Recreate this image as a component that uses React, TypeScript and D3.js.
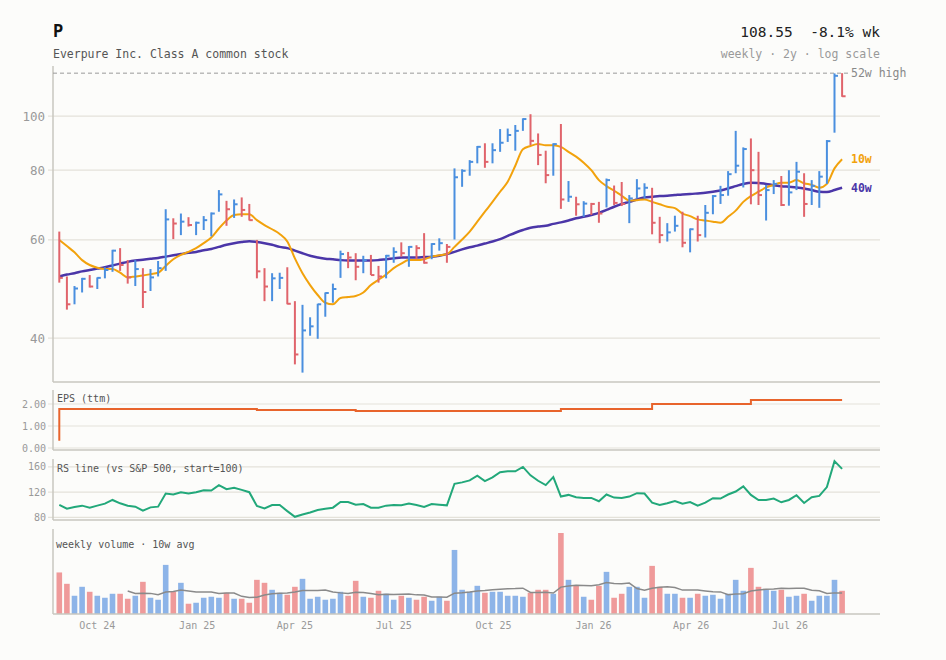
import React from 'react';
import * as d3 from 'd3';

const TICKER = 'P';
const COMPANY = 'Everpure Inc. Class A common stock';
const META = 'weekly · 2y · log scale';
const START = new Date(2024, 7, 27);
const PRIOR_CLOSE = 62.0;

const highs = [
  62.1, 51.6, 49.6, 51.3, 51.9, 51.4, 53.6, 57.6, 58.0, 55.2,
  55.2, 53.4, 53.2, 55.0, 68.1, 65.6, 66.9, 65.9, 64.7, 66.2,
  67.2, 73.7, 70.5, 70.9, 71.5, 69.6, 60.0, 53.4, 52.3, 52.4,
  53.6, 46.6, 45.9, 43.6, 46.1, 48.3, 50.1, 57.4, 57.1, 56.8,
  56.2, 56.4, 53.9, 56.4, 58.2, 59.4, 58.5, 58.7, 61.7, 59.2,
  60.4, 59.0, 80.6, 80.3, 83.4, 88.4, 89.4, 89.4, 94.8, 95.0,
  96.4, 99.1, 100.8, 93.1, 86.7, 89.4, 96.8, 76.5, 71.7, 70.4,
  69.9, 70.2, 77.3, 75.1, 76.2, 72.2, 77.1, 75.8, 74.4, 66.0,
  64.3, 66.3, 67.4, 62.9, 66.3, 69.3, 72.2, 75.0, 79.7, 94.1,
  87.9, 91.2, 86.3, 75.3, 76.8, 78.1, 80.0, 82.8, 79.0, 76.8,
  79.7, 90.6, 119.3, 119.4,
];
const lows = [
  50.3, 45.0, 46.0, 48.3, 49.3, 49.0, 51.2, 52.6, 52.8, 50.1,
  49.6, 45.3, 48.6, 51.6, 52.8, 60.2, 61.2, 63.4, 61.2, 62.5,
  60.9, 67.4, 63.6, 65.7, 66.0, 65.0, 51.2, 46.6, 46.6, 49.0,
  46.0, 35.9, 34.7, 40.4, 39.9, 43.7, 46.3, 51.3, 53.4, 50.8,
  52.3, 51.9, 50.3, 51.2, 54.6, 56.0, 53.7, 55.4, 54.4, 55.4,
  57.4, 54.6, 60.1, 74.7, 78.2, 82.3, 80.8, 82.3, 86.3, 89.9,
  86.7, 94.1, 88.7, 81.7, 75.8, 78.2, 68.2, 70.2, 66.3, 66.0,
  66.5, 64.4, 68.6, 69.3, 69.0, 64.3, 71.2, 71.2, 61.4, 59.2,
  59.6, 62.1, 58.2, 57.0, 59.6, 60.6, 66.7, 69.6, 72.0, 79.0,
  74.5, 69.5, 69.3, 65.0, 72.5, 69.0, 69.1, 73.7, 66.0, 69.3,
  68.5, 75.6, 93.4, 108.3,
];
const closes = [
  51.3, 46.0, 49.1, 51.1, 49.5, 51.3, 53.0, 57.4, 54.1, 51.4,
  53.2, 48.4, 51.4, 53.4, 65.3, 64.2, 64.7, 63.8, 64.4, 65.1,
  66.9, 72.4, 68.1, 69.5, 67.9, 65.1, 52.7, 49.5, 51.2, 51.3,
  46.1, 37.4, 41.3, 42.0, 46.0, 48.2, 49.0, 56.6, 55.8, 53.7,
  55.2, 51.9, 51.6, 56.2, 57.1, 56.8, 58.3, 58.0, 54.6, 59.0,
  59.2, 58.3, 77.7, 79.8, 82.8, 88.1, 82.8, 86.9, 89.6, 92.5,
  94.1, 98.8, 90.3, 85.2, 78.4, 89.1, 70.9, 71.7, 69.5, 69.7,
  69.6, 66.9, 76.8, 69.9, 69.6, 71.2, 74.2, 74.4, 64.4, 61.2,
  61.9, 63.6, 59.3, 62.7, 61.2, 67.1, 71.9, 72.2, 78.7, 81.5,
  87.3, 80.0, 72.2, 73.7, 75.6, 69.3, 73.0, 79.5, 69.6, 75.0,
  77.9, 90.2, 118.1, 108.55,
];
const ma10 = [
  60.0, 58.5, 57.0, 55.2, 54.1, 53.5, 53.2, 53.2, 52.4, 51.4,
  51.6, 51.8, 52.1, 52.4, 53.9, 55.4, 56.4, 57.1, 58.0, 59.2,
  60.6, 62.9, 65.0, 66.5, 66.7, 66.7, 65.1, 63.8, 62.7, 61.5,
  59.6, 55.6, 52.3, 49.8, 47.8, 46.3, 46.0, 47.2, 47.4, 47.6,
  48.3, 49.8, 50.9, 52.0, 53.4, 54.4, 55.2, 55.2, 55.4, 56.0,
  56.3, 56.6, 58.3, 60.1, 62.1, 64.7, 67.4, 70.2, 73.2, 76.3,
  81.5, 87.2, 88.4, 89.1, 88.7, 88.7, 88.1, 86.3, 84.6, 82.5,
  80.0, 76.8, 74.9, 73.5, 72.0, 70.6, 70.7, 70.9, 70.2, 69.5,
  68.8, 68.4, 66.9, 66.2, 65.3, 65.0, 64.7, 64.4, 66.0, 67.7,
  70.2, 71.9, 73.2, 74.5, 75.3, 76.0, 76.0, 76.8, 75.8, 75.3,
  74.4, 75.6, 80.6, 83.7,
];
const ma40 = [
  51.6, 52.0, 52.3, 52.7, 53.0, 53.3, 53.6, 54.0, 54.4, 54.8,
  55.1, 55.3, 55.5, 55.7, 56.0, 56.3, 56.6, 56.9, 57.1, 57.5,
  57.8, 58.3, 58.8, 59.2, 59.5, 59.7, 59.5, 59.2, 58.8, 58.3,
  58.0, 57.4, 56.8, 56.2, 55.8, 55.5, 55.4, 55.2, 55.1, 55.1,
  55.1, 55.1, 55.2, 55.4, 55.6, 55.8, 55.8, 55.8, 55.9, 56.0,
  56.2, 56.6, 57.1, 57.7, 58.2, 58.6, 59.1, 59.6, 60.2, 61.0,
  61.8, 62.5, 63.1, 63.4, 63.6, 64.1, 64.5, 65.0, 65.6, 66.0,
  66.5, 67.1, 67.9, 68.8, 69.6, 70.2, 70.9, 71.5, 71.7, 71.9,
  72.0, 72.2, 72.4, 72.5, 72.7, 72.9, 73.2, 73.6, 74.2, 74.9,
  75.6, 76.0, 75.9, 75.6, 75.2, 74.9, 74.7, 74.5, 74.2, 73.7,
  73.2, 73.1, 73.7, 74.4,
];
const epsLevels = [0.33, 1.77, 1.73, 1.68, 1.77, 2.0, 2.18];
const epsStartWeek = [0, 1, 27, 40, 67, 79, 92];
const rsLine = [
  100.0, 93.9, 96.5, 98.7, 95.5, 98.7, 101.9, 107.7, 102.4, 98.7,
  97.1, 90.7, 96.0, 97.1, 117.9, 116.3, 120.0, 117.9, 120.0, 123.2,
  122.7, 131.2, 124.8, 126.9, 123.7, 120.0, 98.1, 94.4, 99.7, 99.7,
  90.1, 81.1, 84.8, 88.0, 91.7, 93.9, 95.5, 104.5, 104.5, 100.3,
  101.3, 95.5, 95.5, 98.7, 99.7, 99.2, 101.9, 99.7, 96.5, 101.3,
  100.3, 99.2, 133.3, 135.5, 138.7, 146.1, 137.6, 143.5, 151.5, 153.1,
  153.1, 160.0, 146.7, 138.1, 131.2, 144.0, 113.1, 115.7, 112.0, 110.9,
  110.9, 105.6, 116.3, 111.5, 110.9, 113.1, 118.4, 117.9, 103.5, 99.7,
  102.4, 106.1, 101.9, 104.5, 98.7, 103.5, 110.4, 109.9, 116.3, 121.1,
  129.1, 115.7, 107.7, 107.7, 109.9, 104.0, 107.7, 115.2, 102.9, 112.0,
  114.1, 128.0, 169.1, 156.8,
];
const volumeM = [
  4.17, 3.03, 1.83, 2.73, 2.23, 1.83, 1.63, 2.03, 2.03, 1.53,
  1.83, 3.23, 1.63, 1.43, 4.93, 2.23, 3.13, 1.03, 1.13, 1.63,
  1.73, 1.63, 2.13, 1.53, 1.53, 1.13, 3.43, 3.13, 2.43, 2.13,
  1.93, 2.73, 3.53, 1.53, 1.73, 1.43, 1.53, 2.23, 1.83, 3.33,
  1.73, 1.63, 2.33, 2.03, 1.43, 1.83, 1.63, 1.43, 1.73, 1.33,
  1.73, 1.33, 6.43, 2.43, 2.23, 2.83, 2.13, 2.23, 2.23, 1.83,
  1.83, 1.73, 2.13, 2.43, 2.43, 2.03, 8.13, 3.43, 2.83, 1.73,
  1.43, 2.83, 4.23, 1.63, 2.03, 2.73, 2.73, 1.63, 4.83, 2.73,
  2.03, 2.03, 1.63, 1.63, 2.03, 1.83, 1.93, 1.53, 2.03, 3.43,
  2.33, 4.63, 2.73, 2.43, 2.33, 2.43, 1.73, 1.83, 2.03, 1.33,
  1.83, 1.83, 3.43, 2.33,
];
const priceTicks = [40, 60, 80, 100];
const epsTicks = [0, 1, 2];
const rsTicks = [80, 120, 160];

const FONT = '"DejaVu Sans Mono", monospace';
const UP = '#4a8fdf';
const DOWN = '#e0646b';
const UP_V = '#8db4e8';
const DOWN_V = '#ef9a9a';
const ORANGE = '#f2a20c';
const PURPLE = '#4b36a8';
const EPS_C = '#e8642c';
const RS_C = '#22a87a';
const AXIS = '#c9c7bf';
const GRID = '#e4e2da';
const LABEL = '#999';

const X_LEFT = 53;
const X_RIGHT = 880;
const MAIN = { top: 66, bottom: 382 };
const EPSP = { top: 390, bottom: 450 };
const RSP = { top: 459, bottom: 520 };
const VOLP = { top: 529, bottom: 614 };

export default function App() {
  const n = closes.length;
  const dates = d3.range(n).map((i) => d3.timeDay.offset(START, 7 * i));
  const x = d3.scaleTime().domain([dates[0], dates[n - 1]]).range([59.3, 842.1]);

  const y = d3
    .scaleLog()
    .domain([(d3.min(lows) as number) * 0.962, (d3.max(highs) as number) * 1.03])
    .range([MAIN.bottom, MAIN.top]);

  const up = closes.map((c, i) => c >= (i === 0 ? PRIOR_CLOSE : closes[i - 1]));

  const epsWeekly = d3.range(n).map((i) => {
    let v = epsLevels[0];
    epsStartWeek.forEach((s, k) => {
      if (i >= s) v = epsLevels[k];
    });
    return v;
  });
  const yEps = d3.scaleLinear().domain([0, 2.5]).range([EPSP.bottom - 2, EPSP.top + 3]);
  const yRs = d3.scaleLinear().domain([76, 172.5]).range([RSP.bottom, RSP.top]);
  const yVol = d3
    .scaleLinear()
    .domain([0, d3.max(volumeM) as number])
    .range([VOLP.bottom, VOLP.top + 4]);

  const volAvg = volumeM.map((_, i) => (i < 9 ? null : d3.mean(volumeM.slice(i - 9, i + 1)) as number));

  const maLine = (arr: number[]) =>
    d3
      .line<number>()
      .x((_, i) => x(dates[i]))
      .y((d) => y(d))
      .curve(d3.curveMonotoneX)(arr) as string;

  const epsPath = d3
    .line<number>()
    .x((_, i) => x(dates[i]))
    .y((d) => yEps(d))
    .curve(d3.curveStepBefore)(epsWeekly) as string;

  const rsPath = d3
    .line<number>()
    .x((_, i) => x(dates[i]))
    .y((d) => yRs(d))(rsLine) as string;

  const volAvgPath = d3
    .line<number | null>()
    .defined((d) => d !== null)
    .x((_, i) => x(dates[i]))
    .y((d) => yVol(d as number))(volAvg) as string;

  const xTicks = x.ticks(d3.timeMonth.every(3) as d3.TimeInterval);
  const fmt = d3.timeFormat('%b %y');

  const last = closes[n - 1];
  const prev = closes[n - 2];
  const chg = ((last / prev - 1) * 100).toFixed(1);
  const hi52 = d3.max(highs.slice(n - 52)) as number;

  const axisLine = (top: number, bottom: number) => (
    <g>
      <line x1={X_LEFT} x2={X_LEFT} y1={top} y2={bottom} stroke={AXIS} strokeWidth={1.5} />
      <line x1={X_LEFT} x2={X_RIGHT} y1={bottom} y2={bottom} stroke={AXIS} strokeWidth={1.5} />
    </g>
  );

  return (
    <svg
      width={946}
      height={660}
      style={{ position: 'absolute', left: 0, top: 0, fontFamily: FONT }}
    >
      <rect x={0} y={0} width={946} height={660} fill="#fcfcfa" />

      {/* header */}
      <text x={53} y={37} fontSize={17} fontWeight="bold" fill="#111">
        {TICKER}
      </text>
      <text x={X_RIGHT} y={37} fontSize={14.5} fill="#222" textAnchor="end" style={{ whiteSpace: 'pre' }}>
        {`${last.toFixed(2)}  ${chg}% wk`}
      </text>
      <text x={53} y={58} fontSize={11.5} fill="#555">
        {COMPANY}
      </text>
      <text x={X_RIGHT} y={58} fontSize={11.5} fill={LABEL} textAnchor="end">
        {META}
      </text>

      {/* main panel grid */}
      {priceTicks.map((t) => (
        <g key={'pt' + t}>
          <line x1={48} x2={X_RIGHT} y1={y(t)} y2={y(t)} stroke={GRID} strokeWidth={1.2} />
          <text x={45} y={y(t)} dy="0.35em" fontSize={12.5} fill={LABEL} textAnchor="end">
            {t}
          </text>
        </g>
      ))}
      {axisLine(MAIN.top, MAIN.bottom)}

      {/* 52w high */}
      <line
        x1={X_LEFT}
        x2={848}
        y1={y(hi52)}
        y2={y(hi52)}
        stroke="#999"
        strokeWidth={1}
        strokeDasharray="4,3"
      />
      <text x={851} y={y(hi52)} dy="0.35em" fontSize={11.5} fill="#888">
        52w high
      </text>

      {/* moving averages */}
      <path d={maLine(ma40)} fill="none" stroke={PURPLE} strokeWidth={2.5} />
      <path d={maLine(ma10)} fill="none" stroke={ORANGE} strokeWidth={2} />

      {/* OHLC bars (high-low + close tick) */}
      {closes.map((c, i) => {
        const cx = x(dates[i]);
        const col = up[i] ? UP : DOWN;
        return (
          <g key={'b' + i}>
            <line x1={cx} x2={cx} y1={y(highs[i])} y2={y(lows[i])} stroke={col} strokeWidth={2} />
            <line x1={cx} x2={cx + 3.5} y1={y(c)} y2={y(c)} stroke={col} strokeWidth={2} />
          </g>
        );
      })}

      <text x={851} y={y(ma10[n - 1])} dy="0.35em" fontSize={11.5} fontWeight="bold" fill={ORANGE}>
        10w
      </text>
      <text x={851} y={y(ma40[n - 1])} dy="0.35em" fontSize={11.5} fontWeight="bold" fill={PURPLE}>
        40w
      </text>

      {/* EPS panel */}
      {epsTicks.map((t) => (
        <g key={'et' + t}>
          <line x1={48} x2={X_RIGHT} y1={yEps(t)} y2={yEps(t)} stroke={GRID} strokeWidth={1.2} />
          <text x={46} y={yEps(t)} dy="0.35em" fontSize={10} fill={LABEL} textAnchor="end">
            {t.toFixed(2)}
          </text>
        </g>
      ))}
      {axisLine(EPSP.top, EPSP.bottom)}
      <text x={57} y={401.5} fontSize={10} fill="#555">
        EPS (ttm)
      </text>
      <path d={epsPath} fill="none" stroke={EPS_C} strokeWidth={2} />

      {/* RS panel */}
      {rsTicks.map((t) => (
        <g key={'rt' + t}>
          <line x1={48} x2={X_RIGHT} y1={yRs(t)} y2={yRs(t)} stroke={GRID} strokeWidth={1.2} />
          <text x={46} y={yRs(t)} dy="0.35em" fontSize={10} fill={LABEL} textAnchor="end">
            {t}
          </text>
        </g>
      ))}
      {axisLine(RSP.top, RSP.bottom)}
      <text x={57} y={471.5} fontSize={10} fill="#555">
        RS line (vs S&amp;P 500, start=100)
      </text>
      <path d={rsPath} fill="none" stroke={RS_C} strokeWidth={2} />

      {/* Volume panel */}
      {volumeM.map((v, i) => (
        <rect
          key={'v' + i}
          x={x(dates[i]) - 2.8}
          width={5.6}
          y={yVol(v)}
          height={VOLP.bottom - yVol(v)}
          fill={up[i] ? UP_V : DOWN_V}
        />
      ))}
      <path d={volAvgPath} fill="none" stroke="#8a8a8a" strokeWidth={1.5} />
      {axisLine(VOLP.top, VOLP.bottom)}
      <text x={56} y={547.5} fontSize={10} fill="#555">
        weekly volume · 10w avg
      </text>

      {xTicks.map((t) => (
        <text key={'xt' + t.getTime()} x={x(t)} y={628.5} fontSize={10} fill={LABEL} textAnchor="middle">
          {fmt(t)}
        </text>
      ))}
    </svg>
  );
}
